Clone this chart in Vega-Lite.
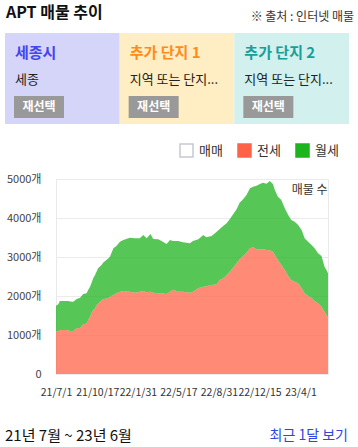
{
  "$schema": "https://vega.github.io/schema/vega-lite/v6.json",
  "padding": {"left": 5, "right": 4, "top": 0, "bottom": 0},
  "autosize": {"type": "pad"},
  "spacing": 0,
  "config": {"font": "Noto Sans CJK KR", "view": {"stroke": null}},
  "resolve": {
    "scale": {"x": "independent", "y": "independent", "fill": "independent", "color": "independent", "stroke": "independent"},
    "legend": {"fill": "independent", "stroke": "independent", "color": "independent"}
  },
  "vconcat": [
    {
      "width": 272,
      "height": 33,
      "layer": [
        {
          "data": {"values": [{"pos": "left", "label": "APT 매물 추이"}]},
          "mark": {"type": "text", "align": "left", "baseline": "middle", "fontSize": 16, "fontWeight": "bold", "color": "#111111", "dy": -3.5},
          "encoding": {
            "x": {"field": "pos", "type": "nominal", "scale": {"type": "point", "domain": ["left", "right"], "range": [-50, 298], "padding": 0}, "axis": null},
            "text": {"field": "label"}
          }
        },
        {
          "data": {"values": [{"pos": "right", "label": "※ 출처 : 인터넷 매물"}]},
          "mark": {"type": "text", "align": "right", "baseline": "middle", "fontSize": 12, "color": "#333333", "dy": 0.5},
          "encoding": {
            "x": {"field": "pos", "type": "nominal", "scale": {"type": "point", "domain": ["left", "right"], "range": [-50, 298], "padding": 0}, "axis": null},
            "text": {"field": "label"}
          }
        }
      ]
    },
    {
      "width": 272,
      "height": 109,
      "data": {"values": [
        {"box": "세종시", "sub": "세종", "btn": "재선택"},
        {"box": "추가 단지 1", "sub": "지역 또는 단지...", "btn": "재선택"},
        {"box": "추가 단지 2", "sub": "지역 또는 단지...", "btn": "재선택"}
      ]},
      "layer": [
        {
          "mark": {"type": "rect"},
          "encoding": {
            "x": {"field": "box", "type": "nominal", "scale": {"domain": ["세종시", "추가 단지 1", "추가 단지 2"], "range": [-51, 293], "paddingInner": 0, "paddingOuter": 0}, "axis": null},
            "y": {"datum": "panel", "type": "nominal", "scale": {"type": "band", "paddingInner": 0, "paddingOuter": 0.0989, "align": 0}, "axis": null},
            "fill": {"field": "box", "type": "nominal", "scale": {"domain": ["세종시", "추가 단지 1", "추가 단지 2"], "range": ["#d5d5fa", "#ffedc4", "#d1f0ee"]}, "legend": null}
          }
        },
        {
          "mark": {"type": "text", "align": "left", "baseline": "middle", "fontSize": 15, "fontWeight": "bold", "xOffset": 10},
          "encoding": {
            "x": {"field": "box", "type": "nominal", "bandPosition": 0, "axis": null},
            "y": {"datum": "title", "type": "nominal", "scale": {"type": "point", "domain": ["title", "sub", "button"], "padding": 1.27, "align": 0.36}, "axis": null},
            "text": {"field": "box"},
            "color": {"field": "box", "type": "nominal", "scale": {"domain": ["세종시", "추가 단지 1", "추가 단지 2"], "range": ["#4444ee", "#ff8c1a", "#17a09a"]}, "legend": null}
          }
        },
        {
          "mark": {"type": "text", "align": "left", "baseline": "middle", "fontSize": 13, "color": "#222222", "xOffset": 10},
          "encoding": {
            "x": {"field": "box", "type": "nominal", "bandPosition": 0, "axis": null},
            "y": {"datum": "sub", "type": "nominal", "scale": {"type": "point", "domain": ["title", "sub", "button"], "padding": 1.27, "align": 0.36}, "axis": null},
            "text": {"field": "sub"}
          }
        },
        {
          "mark": {"type": "point", "shape": "M-1,-0.44H1V0.44H-1Z", "size": 2500, "filled": true, "color": "#999999", "opacity": 1, "xOffset": 34},
          "encoding": {
            "x": {"field": "box", "type": "nominal", "bandPosition": 0, "axis": null},
            "y": {"datum": "button", "type": "nominal", "scale": {"type": "point", "domain": ["title", "sub", "button"], "padding": 1.27, "align": 0.36}, "axis": null}
          }
        },
        {
          "mark": {"type": "text", "align": "center", "baseline": "middle", "fontSize": 12, "fontWeight": "bold", "color": "#ffffff", "xOffset": 34},
          "encoding": {
            "x": {"field": "box", "type": "nominal", "bandPosition": 0, "axis": null},
            "y": {"datum": "button", "type": "nominal", "scale": {"type": "point", "domain": ["title", "sub", "button"], "padding": 1.27, "align": 0.36}, "axis": null},
            "text": {"field": "btn"}
          }
        }
      ],
      "resolve": {"scale": {"y": "independent"}}
    },
    {
      "width": 272,
      "height": 195,
      "view": {"stroke": "#e9e9e9"},
      "data": {"values": [
        {"date": "2021-07-01", "전세": 1085, "월세": 667},
        {"date": "2021-07-07", "전세": 1100, "월세": 686},
        {"date": "2021-07-11", "전세": 1128, "월세": 742},
        {"date": "2021-07-24", "전세": 1128, "월세": 742},
        {"date": "2021-08-02", "전세": 1120, "월세": 750},
        {"date": "2021-08-07", "전세": 1100, "월세": 760},
        {"date": "2021-08-15", "전세": 1100, "월세": 755},
        {"date": "2021-08-24", "전세": 1170, "월세": 753},
        {"date": "2021-09-02", "전세": 1180, "월세": 777},
        {"date": "2021-09-10", "전세": 1282, "월세": 768},
        {"date": "2021-09-19", "전세": 1290, "월세": 778},
        {"date": "2021-09-23", "전세": 1380, "월세": 774},
        {"date": "2021-09-28", "전세": 1470, "월세": 770},
        {"date": "2021-10-02", "전세": 1573, "월세": 769},
        {"date": "2021-10-06", "전세": 1641, "월세": 809},
        {"date": "2021-10-11", "전세": 1684, "월세": 854},
        {"date": "2021-10-15", "전세": 1769, "월세": 851},
        {"date": "2021-10-19", "전세": 1800, "월세": 909},
        {"date": "2021-10-28", "전세": 1897, "월세": 898},
        {"date": "2021-11-01", "전세": 1910, "월세": 945},
        {"date": "2021-11-15", "전세": 1957, "월세": 1009},
        {"date": "2021-11-19", "전세": 1980, "월세": 1029},
        {"date": "2021-11-28", "전세": 2026, "월세": 1196},
        {"date": "2021-12-06", "전세": 2068, "월세": 1214},
        {"date": "2021-12-15", "전세": 2111, "월세": 1282},
        {"date": "2021-12-24", "전세": 2128, "월세": 1308},
        {"date": "2022-01-10", "전세": 2111, "월세": 1385},
        {"date": "2022-01-23", "전세": 2085, "월세": 1394},
        {"date": "2022-02-05", "전세": 2111, "월세": 1368},
        {"date": "2022-02-14", "전세": 2128, "월세": 1436},
        {"date": "2022-02-23", "전세": 2094, "월세": 1385},
        {"date": "2022-03-05", "전세": 2111, "월세": 1479},
        {"date": "2022-03-12", "전세": 2085, "월세": 1377},
        {"date": "2022-03-25", "전세": 2068, "월세": 1385},
        {"date": "2022-04-03", "전세": 2068, "월세": 1342},
        {"date": "2022-04-16", "전세": 2051, "월세": 1282},
        {"date": "2022-04-25", "전세": 2111, "월세": 1325},
        {"date": "2022-05-03", "전세": 2162, "월세": 1248},
        {"date": "2022-05-16", "전세": 2111, "월세": 1299},
        {"date": "2022-05-29", "전세": 2111, "월세": 1265},
        {"date": "2022-06-16", "전세": 2085, "월세": 1265},
        {"date": "2022-06-24", "전세": 2111, "월세": 1299},
        {"date": "2022-07-08", "전세": 2197, "월세": 1256},
        {"date": "2022-07-21", "전세": 2240, "월세": 1324},
        {"date": "2022-07-29", "전세": 2250, "월세": 1254},
        {"date": "2022-08-12", "전세": 2282, "월세": 1256},
        {"date": "2022-08-25", "전세": 2300, "월세": 1350},
        {"date": "2022-09-02", "전세": 2410, "월세": 1308},
        {"date": "2022-09-11", "전세": 2453, "월세": 1342},
        {"date": "2022-09-20", "전세": 2538, "월세": 1325},
        {"date": "2022-09-28", "전세": 2624, "월세": 1342},
        {"date": "2022-10-07", "전세": 2726, "월세": 1368},
        {"date": "2022-10-16", "전세": 2838, "월세": 1384},
        {"date": "2022-10-24", "전세": 2940, "월세": 1453},
        {"date": "2022-11-02", "전세": 3025, "월세": 1454},
        {"date": "2022-11-11", "전세": 3111, "월세": 1479},
        {"date": "2022-11-20", "전세": 3222, "월세": 1539},
        {"date": "2022-11-28", "전세": 3248, "월세": 1555},
        {"date": "2022-12-07", "전세": 3197, "월세": 1632},
        {"date": "2022-12-16", "전세": 3197, "월세": 1675},
        {"date": "2022-12-24", "전세": 3197, "월세": 1709},
        {"date": "2023-01-02", "전세": 3180, "월세": 1700},
        {"date": "2023-01-11", "전세": 3171, "월세": 1778},
        {"date": "2023-01-19", "전세": 3137, "월세": 1735},
        {"date": "2023-01-24", "전세": 3051, "월세": 1667},
        {"date": "2023-02-01", "전세": 2923, "월세": 1624},
        {"date": "2023-02-10", "전세": 2795, "월세": 1667},
        {"date": "2023-02-19", "전세": 2667, "월세": 1581},
        {"date": "2023-02-28", "전세": 2513, "월세": 1564},
        {"date": "2023-03-08", "전세": 2410, "월세": 1539},
        {"date": "2023-03-17", "전세": 2368, "월세": 1538},
        {"date": "2023-03-26", "전세": 2325, "월세": 1496},
        {"date": "2023-04-04", "전세": 2197, "월세": 1495},
        {"date": "2023-04-12", "전세": 2068, "월세": 1411},
        {"date": "2023-04-21", "전세": 2000, "월세": 1393},
        {"date": "2023-04-30", "전세": 1957, "월세": 1351},
        {"date": "2023-05-08", "전세": 1872, "월세": 1350},
        {"date": "2023-05-17", "전세": 1812, "월세": 1282},
        {"date": "2023-05-26", "전세": 1726, "월세": 1300},
        {"date": "2023-06-03", "전세": 1598, "월세": 1154},
        {"date": "2023-06-08", "전세": 1513, "월세": 1154},
        {"date": "2023-06-12", "전세": 1444, "월세": 1137}
      ]},
      "transform": [{"fold": ["전세", "월세"], "as": ["series", "count"]}],
      "mark": {"type": "area", "interpolate": "linear", "fillOpacity": 0.75, "strokeWidth": 0},
      "encoding": {
        "x": {
          "field": "date", "type": "temporal",
          "scale": {"type": "utc", "nice": false},
          "axis": {
            "title": null,
            "values": [
              {"year": 2021, "month": 7, "date": 1, "utc": true},
              {"year": 2021, "month": 10, "date": 17, "utc": true},
              {"year": 2022, "month": 1, "date": 31, "utc": true},
              {"year": 2022, "month": 5, "date": 17, "utc": true},
              {"year": 2022, "month": 8, "date": 31, "utc": true},
              {"year": 2022, "month": 12, "date": 15, "utc": true},
              {"year": 2023, "month": 4, "date": 1, "utc": true}
            ],
            "format": "%y/%-m/%-d",
            "labelFontSize": 10.5, "labelColor": "#333333", "labelPadding": 13,
            "ticks": false, "domain": false, "grid": false,
            "labelOverlap": false, "labelFlush": false
          }
        },
        "y": {
          "field": "count", "type": "quantitative", "stack": "zero",
          "scale": {"domain": [0, 5000], "nice": false},
          "axis": {
            "title": "매물 수", "titleAngle": 0, "titleAlign": "right", "titleBaseline": "top",
            "titleX": 271, "titleY": 5, "titleFontSize": 12, "titleFontWeight": "normal", "titleColor": "#333333",
            "values": [0, 1000, 2000, 3000, 4000, 5000],
            "format": "d",
            "labelExpr": "datum.value == 0 ? '0' : datum.label + '개'",
            "labelFontSize": 11, "labelColor": "#444444", "labelPadding": 15,
            "ticks": false, "domain": false, "grid": true, "gridColor": "#ebebeb"
          }
        },
        "fill": {
          "field": "series", "type": "nominal",
          "scale": {"domain": ["매매", "전세", "월세"], "range": ["#ffffff", "#ff6347", "#1db41d"]},
          "legend": {"title": null, "orient": "none", "legendX": 123, "legendY": -36, "direction": "horizontal", "symbolType": "square", "symbolSize": 169, "symbolStrokeWidth": 1.5, "symbolOpacity": 1, "symbolFillOpacity": 1, "labelFontSize": 13, "labelColor": "#333333", "labelOffset": 5, "columnPadding": 12, "padding": 0}
        },
        "stroke": {
          "field": "series", "type": "nominal",
          "scale": {"domain": ["매매", "전세", "월세"], "range": ["#c5c9d1", "#ff6347", "#1db41d"]},
          "legend": {"title": null, "orient": "none", "legendX": 123, "legendY": -36, "direction": "horizontal", "symbolType": "square", "symbolSize": 169, "symbolStrokeWidth": 1.5, "symbolOpacity": 1, "symbolFillOpacity": 1, "labelFontSize": 13, "labelColor": "#333333", "labelOffset": 5, "columnPadding": 12, "padding": 0}
        },
        "order": {"field": "series", "sort": "descending"}
      }
    },
    {
      "width": 272,
      "height": 46,
      "layer": [
        {
          "data": {"values": [{"pos": "left", "label": "21년 7월 ~ 23년 6월"}]},
          "mark": {"type": "text", "align": "left", "baseline": "middle", "fontSize": 15, "color": "#111111", "dy": 15},
          "encoding": {
            "x": {"field": "pos", "type": "nominal", "scale": {"type": "point", "domain": ["left", "right"], "range": [-51, 292], "padding": 0}, "axis": null},
            "text": {"field": "label"}
          }
        },
        {
          "data": {"values": [{"pos": "right", "label": "최근 1달 보기"}]},
          "mark": {"type": "text", "align": "right", "baseline": "middle", "fontSize": 14, "color": "#2f45e0", "dy": 15},
          "encoding": {
            "x": {"field": "pos", "type": "nominal", "scale": {"type": "point", "domain": ["left", "right"], "range": [-51, 292], "padding": 0}, "axis": null},
            "text": {"field": "label"}
          }
        }
      ]
    }
  ]
}
